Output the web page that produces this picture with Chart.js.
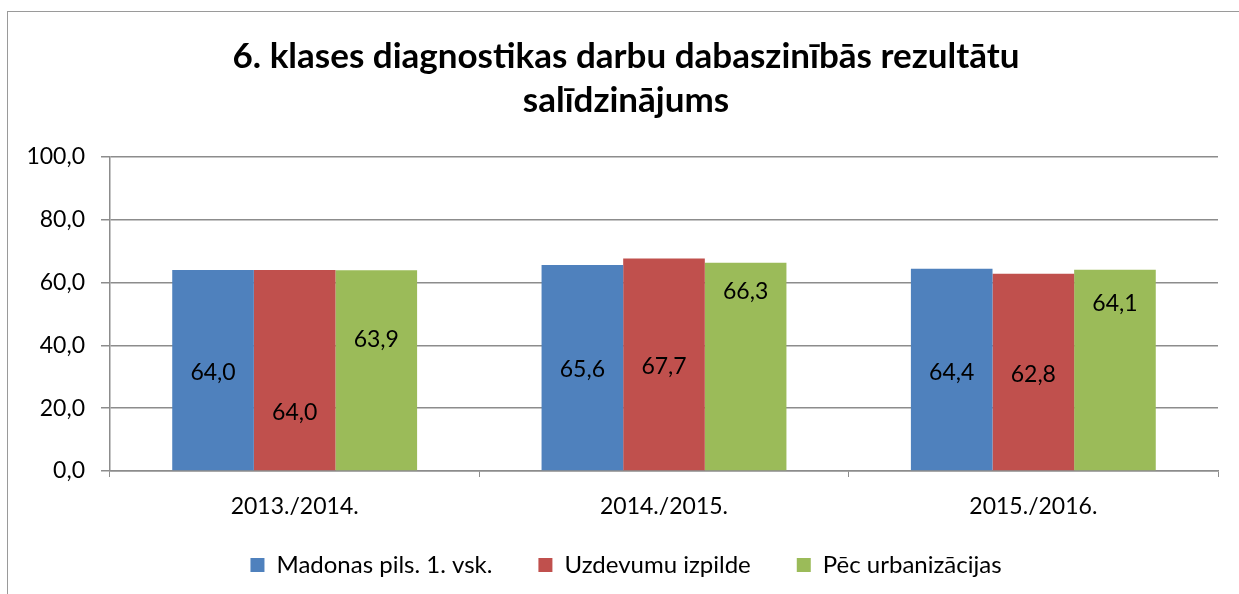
<!DOCTYPE html>
<html>
<head>
<meta charset="utf-8">
<script src="https://cdn.jsdelivr.net/npm/chart.js@4"></script>
<style>
  html, body { margin: 0; padding: 0; background: #fff; }
  #wrap { position: relative; width: 1239px; height: 594px; }
</style>
</head>
<body>
<div id="wrap"><canvas id="chart"></canvas></div>
<script>
// data
const years = ["2013./2014.", "2014./2015.", "2015./2016."];
const seriesNames = ["Madonas pils. 1. vsk.", "Uzdevumu izpilde", "Pēc urbanizācijas"];
const madona = [64.0, 65.6, 64.4];
const izpilde = [64.0, 67.7, 62.8];
const urbanizacija = [63.9, 66.3, 64.1];
const colors = ["#4F81BD", "#C0504D", "#9BBB59"];
// where each value label sits, in axis units
const labelAt = [
    [31.5, 32.2, 31.5],
    [18.5, 33.1, 30.6],
    [41.7, 57.0, 53.2]
];

const FONT = "Lato";
const grey = "#8c8c8c";

const fmt = (v) => v.toFixed(1).replace(".", ",");

// frame around the chart and white background
const framePlugin = {
    id: "frame",
    beforeDraw(chart) {
        const c = chart.ctx;
        c.save();
        c.fillStyle = "#fff";
        c.fillRect(0, 0, chart.width, chart.height);
        c.strokeStyle = "#9a9a9a";
        c.lineWidth = 1;
        c.strokeRect(7.5, 11.5, chart.width + 10, chart.height + 10);
        c.restore();
    },
    afterLayout(chart) {
        // x labels hang below the (short) axis box, don't clip them
        chart.scales.x._computeLabelArea = () => undefined;
    }
};

// value labels inside the bars
const valueLabels = {
    id: "valueLabels",
    afterDatasetsDraw(chart) {
        const c = chart.ctx;
        const y = chart.scales.y;
        c.save();
        c.font = "23px " + FONT;
        c.fillStyle = "#000";
        c.textAlign = "center";
        c.textBaseline = "middle";
        chart.data.datasets.forEach((ds, d) => {
            chart.getDatasetMeta(d).data.forEach((bar, i) => {
                c.fillText(fmt(ds.data[i]), bar.x, y.getPixelForValue(labelAt[d][i]));
            });
        });
        c.restore();
    }
};

new Chart(document.getElementById("chart"), {
    type: "bar",
    data: {
        labels: years,
        datasets: [
            { label: seriesNames[0], data: madona, backgroundColor: colors[0] },
            { label: seriesNames[1], data: izpilde, backgroundColor: colors[1] },
            { label: seriesNames[2], data: urbanizacija, backgroundColor: colors[2] }
        ]
    },
    options: {
        responsive: true,
        maintainAspectRatio: false,
        animation: false,
        layout: { padding: { left: 17, right: 4, top: 0, bottom: 7 } },
        datasets: { bar: { barPercentage: 1, categoryPercentage: 0.663 } },
        plugins: {
            title: {
                display: true,
                text: ["6. klases diagnostikas darbu dabaszinībās rezultātu", "salīdzinājums"],
                color: "#000",
                font: { family: FONT, size: 35, weight: "bold", lineHeight: 1.257 },
                padding: { top: 35, bottom: 34 }
            },
            legend: {
                position: "bottom",
                labels: {
                    color: "#000",
                    font: { family: FONT, size: 24 },
                    boxWidth: 14,
                    boxHeight: 14,
                    padding: 46
                }
            },
            tooltip: { enabled: false }
        },
        scales: {
            x: {
                grid: { offset: true, drawOnChartArea: false, drawTicks: true, tickLength: 6, color: grey },
                border: { display: true, color: grey, width: 1.5 },
                ticks: { color: "#000", font: { family: FONT, size: 23 }, padding: 16 },
                afterFit(scale) { scale.height = 36; }
            },
            y: {
                min: 0,
                max: 100,
                ticks: { stepSize: 20, color: "#000", font: { family: FONT, size: 23 }, padding: 16, callback: (v) => fmt(v) },
                grid: { color: grey, lineWidth: 1.5, tickLength: 9 },
                border: { display: true, color: grey, width: 1.5 },
                afterFit(scale) { scale.width = 93; }
            },
            // empty spacer on the right so the title and legend sit where they do in the original
            spacer: {
                position: "right",
                display: true,
                grid: { display: false },
                border: { display: false },
                ticks: { display: false },
                afterFit(scale) { scale.width = 17; }
            }
        }
    },
    plugins: [framePlugin, valueLabels]
});
</script>
</body>
</html>
